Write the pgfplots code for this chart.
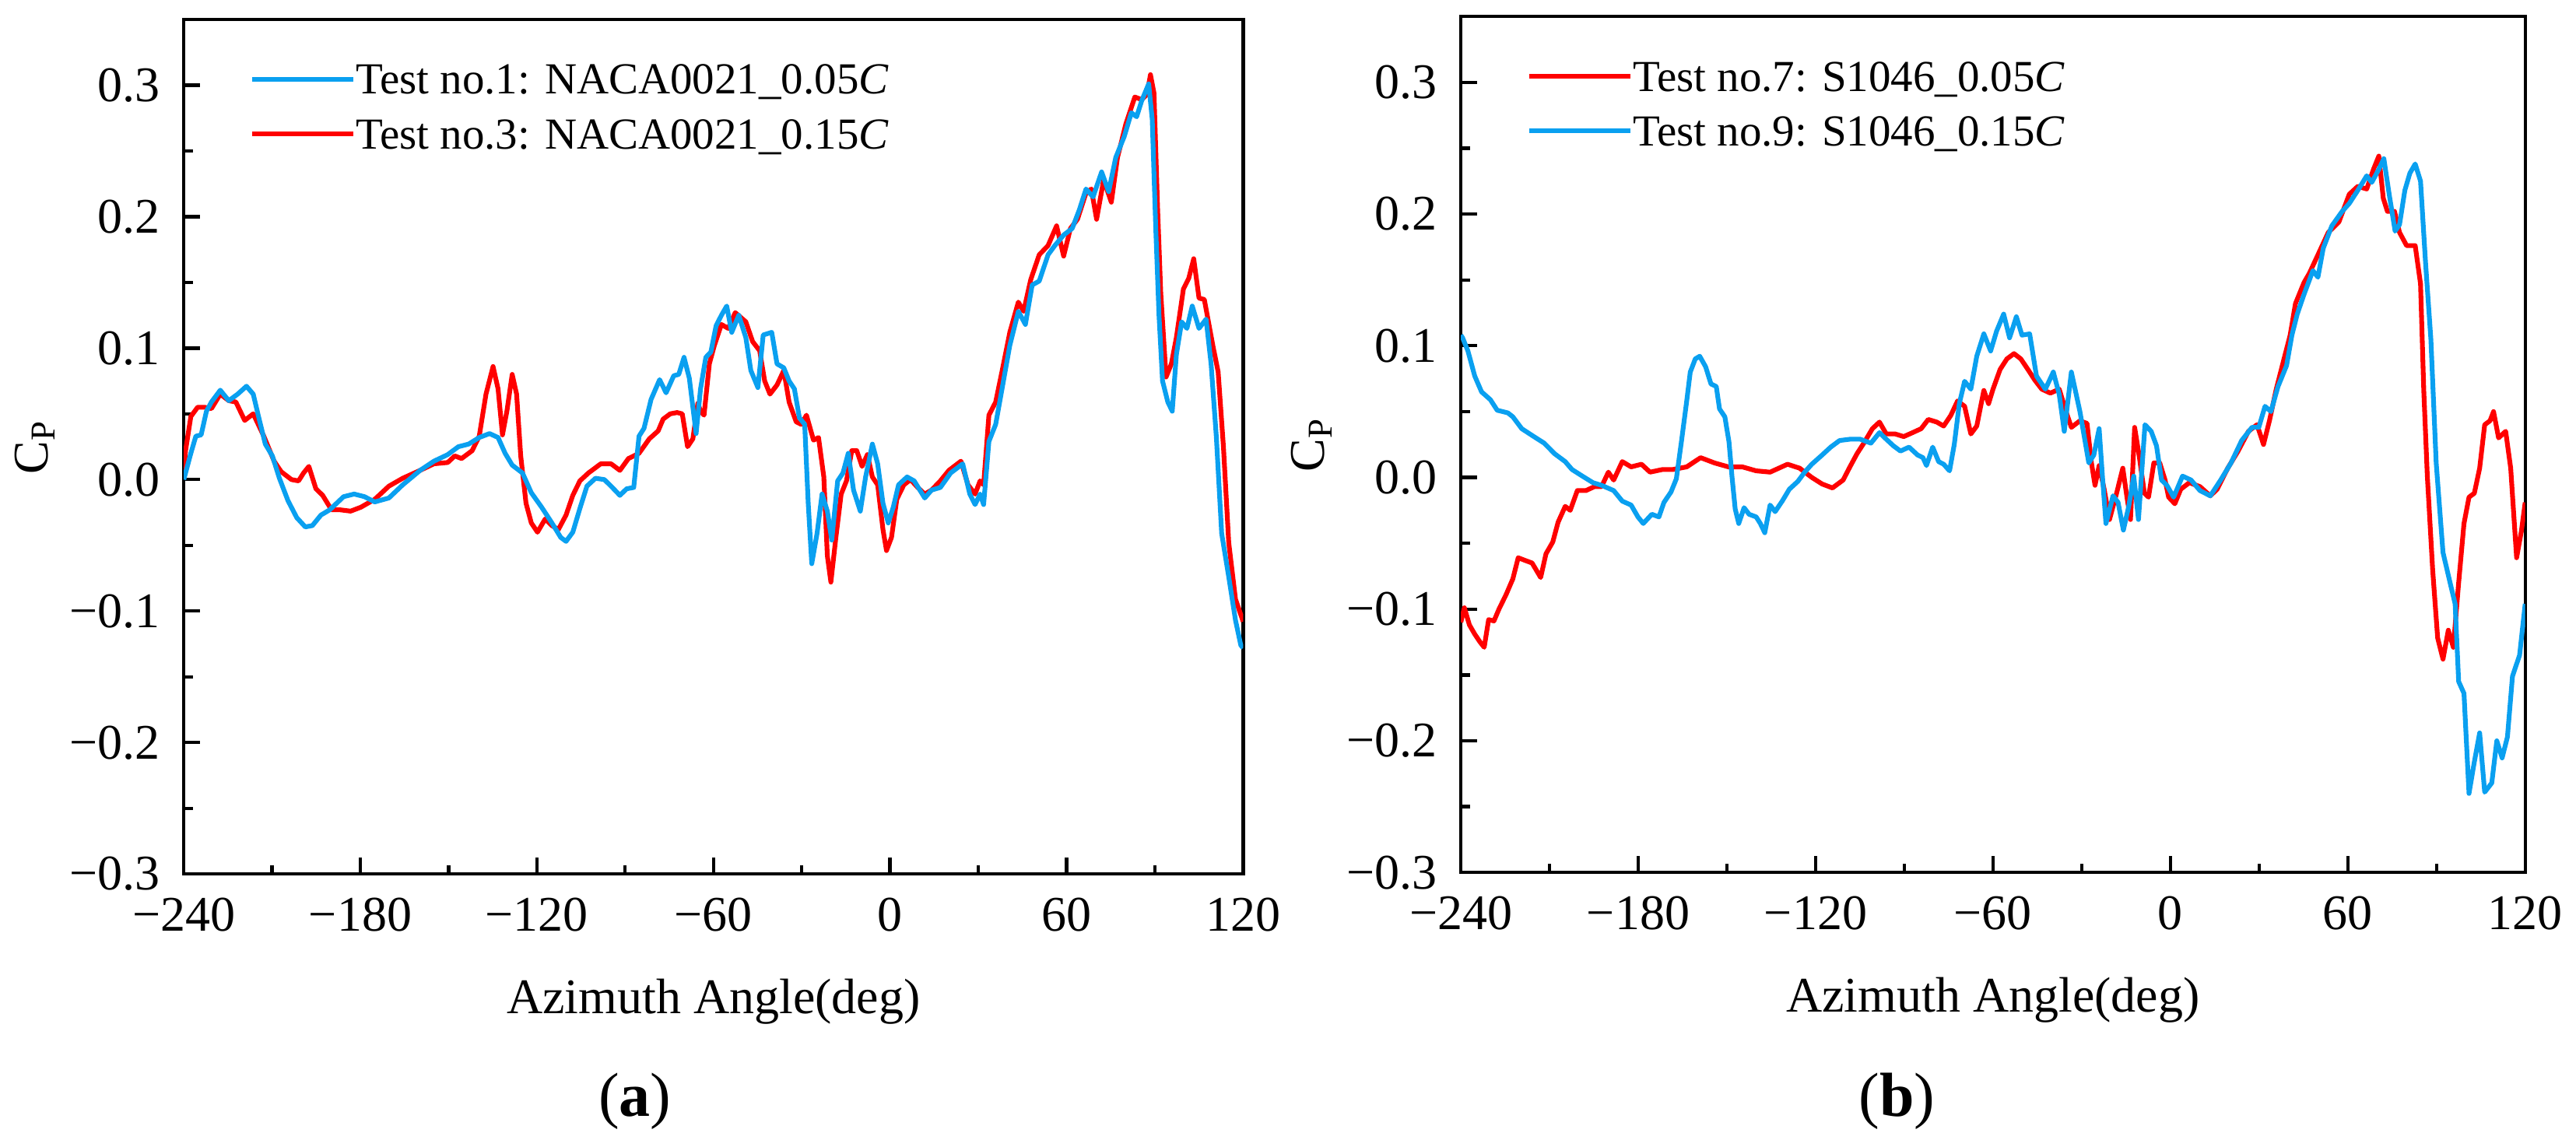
\documentclass[border=0pt]{standalone}
\usepackage{fontspec}
\setmainfont{Liberation Serif}
\usepackage{pgfplots}
\pgfplotsset{compat=1.18}
\definecolor{cpblue}{RGB}{10,160,240}
\definecolor{cpred}{RGB}{255,0,0}
\pgfplotsset{cpaxis/.style={
  scale only axis, width=212.7pt, height=171.6pt,
  xmin=-240, xmax=120, ymin=-0.3, ymax=0.35,
  xtick={-240,-180,-120,-60,0,60,120},
  xticklabels={−240,−180,−120,−60,0,60,120},
  ytick={-0.3,-0.2,-0.1,0,0.1,0.2,0.3},
  yticklabels={−0.3,−0.2,−0.1,0.0,0.1,0.2,0.3},
  minor x tick num=1, minor y tick num=1,
  tick align=inside, xtick pos=left, ytick pos=left,
  major tick length=3.3pt, minor tick length=1.8pt,
  axis line style={line width=0.67pt},
  every tick/.style={black, line width=0.67pt},
  tick label style={font=\fontsize{10}{12}\selectfont},
  xticklabel style={anchor=base, yshift=-11.4pt},
  yticklabel style={anchor=east, xshift=-1.2pt},
  xlabel={Azimuth Angle(deg)}, ylabel={C\textsubscript{P}},
  label style={font=\fontsize{10}{12}\selectfont},
  xlabel style={at={(axis description cs:0.5,-0.1632)}, anchor=base},
  ylabel style={at={(axis description cs:-0.1284,0.5)}, anchor=base},
  legend style={draw=none, fill=none, at={(axis description cs:0,1)}, anchor=north west,
    xshift=13.1pt, yshift=-6.3pt, inner sep=0pt, row sep=0pt,
    font=\fontsize{8.9}{10}\selectfont,
    nodes={inner xsep=0pt, inner ysep=2.5pt, text height=6pt, text depth=0pt}},
  legend cell align=left,
  legend image code/.code={\draw[##1] (0pt,0pt) -- (20.3pt,0pt);},
  every axis plot/.append style={line width=0.95pt, line join=round},
}}
\begin{document}
\begin{tikzpicture}
\path[use as bounding box] (0,0) rectangle (517.2pt,230.2pt);
% ---------------- panel (a)
\begin{axis}[cpaxis, at={(36.9pt,54.7pt)}, anchor=south west, reverse legend]
\addplot[cpred] coordinates {
(-240,0.005) (-239.4,0.022) (-237.6,0.048) (-235.3,0.055) (-232.9,0.055) (-230.6,0.054)
(-227.6,0.065) (-224.7,0.060) (-222.3,0.059) (-219.3,0.045) (-216.4,0.050) (-212.8,0.033)
(-209.3,0.014) (-206.9,0.006) (-203.4,0.000) (-201.0,-0.001) (-199.3,0.005) (-197.5,0.010)
(-195.1,-0.007) (-192.8,-0.012) (-189.8,-0.023) (-186.9,-0.023) (-183.3,-0.024) (-179.8,-0.021)
(-175.1,-0.015) (-170.3,-0.005) (-165.6,0.001) (-159.7,0.007) (-155.0,0.012) (-150.3,0.013)
(-147.9,0.018) (-145.6,0.016) (-142.0,0.022) (-139.6,0.033) (-137.3,0.065) (-134.9,0.086)
(-133.2,0.069) (-131.7,0.034) (-130.2,0.052) (-128.4,0.080) (-126.9,0.065) (-125.5,0.018)
(-123.7,-0.018) (-121.9,-0.033) (-119.8,-0.040) (-117.2,-0.030) (-114.9,-0.035) (-112.7,-0.038)
(-110.1,-0.027) (-107.8,-0.012) (-105.4,-0.001) (-102.5,0.005) (-98.3,0.012) (-94.8,0.012)
(-91.8,0.007) (-88.9,0.016) (-85.3,0.020) (-81.8,0.031) (-78.8,0.037) (-77.1,0.046)
(-74.7,0.050) (-72.4,0.051) (-70.6,0.050) (-68.8,0.025) (-67.0,0.031) (-65.3,0.058)
(-64.4,0.052) (-63.2,0.049) (-61.4,0.088) (-59.7,0.102) (-57.3,0.118) (-55.0,0.115)
(-52.6,0.127) (-49.0,0.120) (-46.7,0.105) (-44.3,0.098) (-42.6,0.075) (-40.8,0.065)
(-38.4,0.072) (-36.1,0.083) (-34.3,0.059) (-31.9,0.044) (-30.2,0.042) (-28.4,0.049)
(-26.0,0.030) (-24.3,0.032) (-22.5,0.002) (-21.3,-0.058) (-20.1,-0.078) (-18.4,-0.044)
(-16.6,-0.011) (-14.8,-0.001) (-13.0,0.022) (-11.3,0.022) (-9.5,0.010) (-7.7,0.019)
(-6.0,0.002) (-4.2,-0.004) (-2.4,-0.038) (-1.2,-0.054) (0.5,-0.044) (2.3,-0.015)
(4.7,-0.004) (7.0,0.000) (9.4,-0.006) (11.8,-0.011) (14.1,-0.008) (17.1,-0.001)
(20.0,0.007) (24.1,0.014) (26.5,-0.004) (28.9,-0.011) (30.6,-0.001) (31.8,-0.004)
(33.6,0.049) (35.9,0.059) (38.3,0.085) (40.7,0.112) (43.6,0.135) (45.4,0.128)
(47.8,0.152) (50.7,0.171) (53.7,0.178) (56.6,0.193) (59.0,0.170) (61.3,0.191)
(63.7,0.198) (66.6,0.218) (68.4,0.221) (70.2,0.198) (72.6,0.228) (75.2,0.211)
(77.3,0.245) (80.2,0.271) (83.2,0.291) (85.5,0.289) (87.3,0.293) (88.5,0.308)
(89.7,0.294) (90.9,0.208) (92.0,0.142) (93.8,0.078) (95.6,0.088) (97.3,0.108)
(99.7,0.145) (101.5,0.153) (103.2,0.168) (105.0,0.138) (106.8,0.137) (109.7,0.102)
(111.5,0.082) (113.3,0.025) (115.1,-0.048) (117.4,-0.091) (120.0,-0.108)
};
\addlegendentry{Test no.3: NACA0021\_0.15\textit{C}}
\addplot[cpblue] coordinates {
(-240,0.000) (-237.6,0.020) (-235.9,0.033) (-234.1,0.034) (-232.3,0.052) (-230.6,0.059)
(-227.6,0.068) (-224.7,0.060) (-221.7,0.065) (-218.7,0.071) (-216.4,0.065) (-214.6,0.048)
(-212.3,0.027) (-209.9,0.018) (-207.5,0.001) (-204.6,-0.016) (-201.6,-0.029) (-198.7,-0.036)
(-196.3,-0.035) (-193.4,-0.027) (-190.4,-0.023) (-185.7,-0.013) (-182.1,-0.011) (-178.6,-0.013)
(-175.1,-0.017) (-170.3,-0.014) (-165.6,-0.004) (-159.7,0.007) (-155.0,0.014) (-150.3,0.019)
(-146.7,0.025) (-143.2,0.027) (-139.6,0.032) (-136.1,0.035) (-133.2,0.032) (-130.8,0.020)
(-128.4,0.011) (-124.9,0.005) (-121.9,-0.010) (-118.4,-0.021) (-114.9,-0.033) (-111.9,-0.044)
(-110.1,-0.047) (-107.8,-0.040) (-105.4,-0.022) (-103.0,-0.005) (-100.1,0.001) (-97.1,0.000)
(-94.8,-0.005) (-91.8,-0.012) (-89.5,-0.007) (-87.1,-0.006) (-85.3,0.033) (-83.6,0.039)
(-81.2,0.061) (-78.3,0.076) (-76.1,0.066) (-73.5,0.079) (-71.8,0.080) (-70.0,0.093)
(-68.2,0.077) (-65.9,0.035) (-64.4,0.069) (-62.6,0.093) (-60.9,0.097) (-59.1,0.117)
(-57.3,0.125) (-55.5,0.132) (-53.8,0.112) (-51.4,0.125) (-49.0,0.108) (-47.3,0.083)
(-44.9,0.070) (-43.1,0.110) (-40.2,0.112) (-38.4,0.088) (-36.1,0.085) (-34.3,0.075)
(-32.5,0.069) (-30.8,0.047) (-29.0,0.042) (-27.8,-0.018) (-26.6,-0.064) (-24.8,-0.041)
(-23.1,-0.011) (-21.3,-0.024) (-19.8,-0.046) (-17.8,-0.001) (-16.0,0.005) (-14.2,0.020)
(-12.4,-0.008) (-10.1,-0.024) (-8.3,0.002) (-6.0,0.027) (-4.2,0.012) (-2.4,-0.018)
(-0.6,-0.033) (1.1,-0.021) (2.9,-0.004) (5.8,0.002) (8.2,-0.001) (11.8,-0.014)
(14.1,-0.008) (17.1,-0.006) (20.6,0.005) (24.7,0.012) (27.1,-0.011) (28.9,-0.019)
(30.6,-0.011) (31.8,-0.019) (33.6,0.029) (35.9,0.042) (38.3,0.072) (40.7,0.102)
(43.6,0.128) (46.0,0.118) (48.3,0.148) (50.7,0.151) (53.7,0.171) (56.0,0.178)
(59.0,0.186) (61.9,0.191) (64.3,0.205) (66.6,0.221) (69.0,0.215) (71.9,0.234)
(74.3,0.219) (76.7,0.245) (79.6,0.261) (82.0,0.279) (83.8,0.276) (85.5,0.288)
(87.9,0.301) (89.1,0.274) (90.3,0.191) (91.4,0.125) (92.6,0.075) (94.4,0.059)
(95.9,0.052) (97.3,0.095) (99.1,0.120) (100.9,0.115) (102.7,0.132) (105.0,0.115)
(107.4,0.122) (109.1,0.088) (110.9,0.032) (112.7,-0.041) (115.1,-0.074) (117.4,-0.107)
(119.2,-0.126) (120.0,-0.128)
};
\addlegendentry{Test no.1: NACA0021\_0.05\textit{C}}
\end{axis}
% ---------------- panel (b)
\begin{axis}[cpaxis, at={(293.3pt,55.0pt)}, anchor=south west, width=213.7pt, height=171.9pt]
\addplot[cpred] coordinates {
(-240,-0.110) (-238.8,-0.099) (-237.1,-0.112) (-235.3,-0.119) (-233.5,-0.125) (-232.1,-0.129)
(-230.6,-0.108) (-228.8,-0.109) (-227.1,-0.100) (-224.7,-0.089) (-222.4,-0.077) (-220.6,-0.061)
(-218.3,-0.063) (-215.9,-0.065) (-213.0,-0.076) (-211.2,-0.058) (-208.9,-0.049) (-207.1,-0.034)
(-204.7,-0.022) (-203.0,-0.025) (-200.6,-0.010) (-197.7,-0.010) (-194.8,-0.007) (-192.4,-0.007)
(-190.1,0.004) (-188.3,-0.002) (-185.4,0.012) (-182.4,0.008) (-178.9,0.010) (-176.0,0.004)
(-171.8,0.006) (-168.3,0.006) (-163.6,0.008) (-158.9,0.015) (-154.2,0.011) (-149.5,0.008)
(-144.8,0.008) (-140.1,0.005) (-135.4,0.004) (-129.5,0.010) (-125.4,0.007) (-121.3,0.000)
(-117.8,-0.005) (-114.3,-0.008) (-110.7,-0.002) (-108.4,0.008) (-106.0,0.018) (-103.7,0.026)
(-100.8,0.037) (-98.4,0.042) (-96.1,0.033) (-93.1,0.033) (-90.2,0.031) (-87.2,0.034)
(-84.3,0.037) (-81.9,0.044) (-79.0,0.042) (-76.7,0.039) (-74.3,0.047) (-72.0,0.058)
(-69.6,0.054) (-67.5,0.033) (-65.5,0.039) (-63.1,0.066) (-61.5,0.056) (-60.0,0.067)
(-57.6,0.082) (-55.3,0.090) (-52.9,0.094) (-50.6,0.090) (-48.2,0.082) (-45.9,0.074)
(-43.5,0.067) (-40.6,0.064) (-37.6,0.067) (-35.3,0.050) (-33.5,0.038) (-30.6,0.043)
(-28.2,0.041) (-26.7,0.011) (-25.5,-0.006) (-24.1,0.009) (-22.4,-0.009) (-20.6,-0.032)
(-18.2,-0.012) (-16.1,0.007) (-14.7,-0.015) (-13.5,-0.032) (-12.1,0.038) (-10.6,0.017)
(-8.8,-0.012) (-7.4,-0.015) (-5.6,0.011) (-3.6,0.011) (-1.8,-0.002) (-0.6,-0.015)
(1.5,-0.020) (3.5,-0.009) (6.4,-0.004) (10.0,-0.007) (13.5,-0.014) (15.8,-0.009)
(19.4,0.007) (22.9,0.020) (26.4,0.035) (29.3,0.040) (31.5,0.025) (33.5,0.043)
(35.8,0.067) (38.2,0.088) (40.5,0.108) (42.3,0.132) (45.2,0.148) (47.0,0.155)
(49.9,0.169) (53.4,0.186) (57.0,0.194) (60.5,0.215) (63.4,0.221) (66.4,0.219)
(68.7,0.234) (70.5,0.244) (72.0,0.212) (73.4,0.202) (75.8,0.202) (77.5,0.186)
(79.9,0.176) (82.8,0.176) (84.6,0.147) (85.7,0.066) (86.9,0.001) (88.7,-0.070)
(90.4,-0.122) (92.2,-0.138) (94.0,-0.116) (95.7,-0.129) (97.5,-0.080) (99.3,-0.035)
(101.0,-0.015) (102.8,-0.012) (104.6,0.007) (106.3,0.040) (108.1,0.043) (109.3,0.050)
(111.0,0.030) (113.4,0.035) (115.1,0.007) (117.1,-0.061) (118.7,-0.041) (120.0,-0.019)
};
\addlegendentry{Test no.7: S1046\_0.05\textit{C}}
\addplot[cpblue] coordinates {
(-240,0.108) (-239.4,0.106) (-237.6,0.096) (-235.3,0.077) (-233.0,0.065) (-230.0,0.059)
(-227.7,0.051) (-224.1,0.049) (-222.4,0.046) (-219.4,0.037) (-215.3,0.031) (-211.8,0.026)
(-208.3,0.018) (-204.7,0.012) (-202.4,0.006) (-198.9,0.001) (-195.3,-0.004) (-192.4,-0.006)
(-188.3,-0.010) (-185.4,-0.018) (-182.4,-0.021) (-180.1,-0.030) (-178.3,-0.035) (-175.4,-0.028)
(-173.0,-0.030) (-171.3,-0.019) (-168.9,-0.011) (-167.1,-0.001) (-165.4,0.027) (-163.6,0.058)
(-162.4,0.080) (-160.7,0.090) (-159.2,0.092) (-157.2,0.084) (-155.4,0.071) (-153.6,0.069)
(-152.5,0.052) (-150.7,0.046) (-149.3,0.027) (-148.3,0.001) (-147.2,-0.024) (-146.0,-0.035)
(-144.2,-0.023) (-142.5,-0.028) (-140.1,-0.030) (-138.7,-0.035) (-137.2,-0.042) (-135.4,-0.021)
(-133.7,-0.026) (-131.3,-0.018) (-128.9,-0.009) (-126.0,-0.003) (-123.7,0.004) (-121.3,0.010)
(-117.8,0.017) (-114.9,0.023) (-111.9,0.028) (-108.4,0.029) (-104.9,0.029) (-101.3,0.026)
(-98.4,0.034) (-96.1,0.029) (-93.7,0.024) (-91.3,0.020) (-88.4,0.023) (-85.5,0.017)
(-83.7,0.015) (-82.5,0.009) (-80.4,0.023) (-78.4,0.012) (-76.7,0.010) (-74.7,0.005)
(-73.1,0.025) (-71.4,0.056) (-69.6,0.073) (-67.5,0.067) (-65.5,0.092) (-63.1,0.109)
(-60.8,0.096) (-58.8,0.111) (-56.4,0.124) (-54.4,0.106) (-52.1,0.122) (-50.2,0.108)
(-47.6,0.109) (-45.3,0.077) (-42.3,0.067) (-39.6,0.080) (-37.6,0.063) (-35.9,0.035)
(-33.5,0.080) (-30.6,0.050) (-27.6,0.011) (-25.9,0.017) (-24.1,0.037) (-22.9,-0.002)
(-21.8,-0.035) (-19.4,-0.014) (-17.7,-0.019) (-15.9,-0.040) (-14.1,-0.022) (-12.4,0.001)
(-10.8,-0.032) (-8.6,0.040) (-6.5,0.035) (-4.7,0.024) (-3.0,-0.002) (-1.2,-0.006)
(1.1,-0.015) (4.1,0.001) (7.0,-0.002) (10.0,-0.010) (13.5,-0.014) (17.0,-0.002)
(20.5,0.011) (24.1,0.028) (27.6,0.038) (29.9,0.038) (32.0,0.054) (34.0,0.050)
(36.4,0.069) (39.3,0.085) (41.1,0.108) (42.9,0.124) (45.2,0.139) (48.2,0.157)
(49.9,0.152) (51.7,0.174) (54.6,0.191) (58.1,0.202) (60.5,0.208) (63.4,0.218)
(66.4,0.229) (68.1,0.224) (70.5,0.234) (72.2,0.242) (74.0,0.215) (76.0,0.187)
(77.5,0.192) (79.3,0.218) (81.0,0.231) (82.8,0.238) (84.6,0.225) (86.3,0.163)
(88.1,0.105) (89.9,0.011) (92.2,-0.057) (94.6,-0.080) (96.3,-0.096) (97.5,-0.155)
(99.3,-0.164) (101.0,-0.240) (102.8,-0.216) (104.6,-0.194) (106.3,-0.239) (108.7,-0.232)
(110.4,-0.200) (112.2,-0.213) (114.0,-0.197) (115.7,-0.151) (118.1,-0.135) (120.0,-0.096)
};
\addlegendentry{Test no.9: S1046\_0.15\textit{C}}
\end{axis}
\node[anchor=base, font=\fontsize{12.5}{14}\selectfont] at (127.5pt,6.1pt) {(\textbf{a})};
\node[anchor=base, font=\fontsize{12.5}{14}\selectfont] at (380.9pt,6.1pt) {(\textbf{b})};
\end{tikzpicture}
\end{document}
